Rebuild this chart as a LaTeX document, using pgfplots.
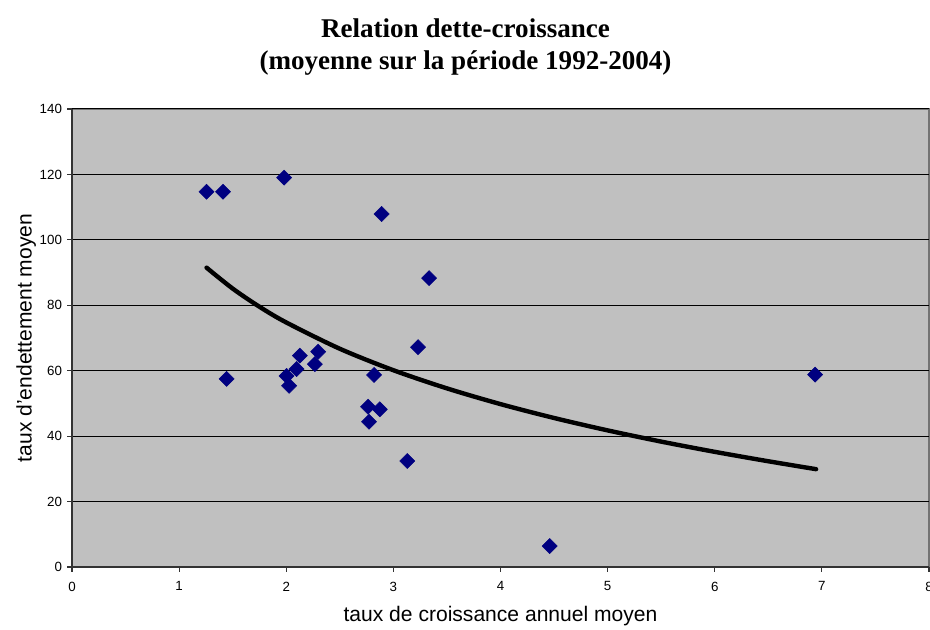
\documentclass[border=0pt]{standalone}
\usepackage{pgfplots}
\pgfplotsset{compat=1.18}
\usepackage{fontspec}
\setmainfont{Liberation Sans}
\newfontfamily\titlefont{Liberation Serif}
\definecolor{plotbg}{HTML}{C0C0C0}
\definecolor{navy}{HTML}{000080}
\begin{document}
\begin{tikzpicture}
\path[use as bounding box] (-54pt,-47.25pt) rectangle (643.5pt,425.25pt);
\begin{axis}[
  scale only axis,
  width=642.75pt, height=343.5pt,
  xmin=0, xmax=8, ymin=0, ymax=140,
  xtick={0,1,...,8}, ytick={0,20,...,140},
  axis background/.style={fill=plotbg, draw=gray!90!black, line width=1.2pt},
  axis x line*=bottom, axis y line*=left,
  axis line style={draw=black!80, line width=1.4pt, -},
  ymajorgrids,
  grid style={black, line width=0.75pt},
  tick align=outside,
  major tick length=3.5pt,
  tick style={black!80, line width=0.9pt},
  /pgf/number format/assume math mode=true,
  ticklabel style={font=\fontsize{10}{12}\selectfont},
  xticklabel style={yshift=-4pt},
  yticklabel style={xshift=-0.5pt},
  xlabel={taux de croissance annuel moyen},
  ylabel={taux d'endettement moyen},
  xlabel style={at={(axis description cs:0.5,0)}, anchor=center, yshift=-36.5pt, font=\fontsize{15.8}{18}\selectfont},
  ylabel style={at={(axis description cs:-0.0535,0.5)}, anchor=center, font=\fontsize{15.8}{18}\selectfont},
  clip=false,
]
\addplot[only marks, mark=square*, mark size=4pt, mark options={rotate=45, fill=navy, draw=navy}]
coordinates {
 (1.256,114.7) (1.41,114.7) (1.98,119.0) (2.89,107.9) (3.333,88.3)
 (3.23,67.2) (1.443,57.5) (2.003,58.4) (2.027,55.4) (2.096,60.5)
 (2.127,64.6) (2.267,62.0) (2.298,65.8) (2.82,58.7) (2.764,49.0)
 (2.873,48.2) (2.773,44.4) (3.13,32.4) (4.459,6.4) (6.937,58.8)
};
\addplot[black, line width=3.3pt, smooth, line cap=round]
coordinates {
 (1.256,91.50) (1.5,85.10) (1.75,79.55) (2.0,74.75) (2.5,66.71)
 (3.0,60.15) (3.5,54.60) (4.0,49.79) (4.5,45.55) (5.0,41.76)
 (5.5,38.33) (6.0,35.20) (6.5,32.32) (6.946,29.90)
};
\node[font=\titlefont\bfseries\fontsize{20.3}{24}\selectfont, align=center]
  at (axis description cs:0.5,1) [xshift=-26.25pt, yshift=46.5pt]
  {Relation dette-croissance\\(moyenne sur la période 1992-2004)};
\end{axis}
\end{tikzpicture}
\end{document}
